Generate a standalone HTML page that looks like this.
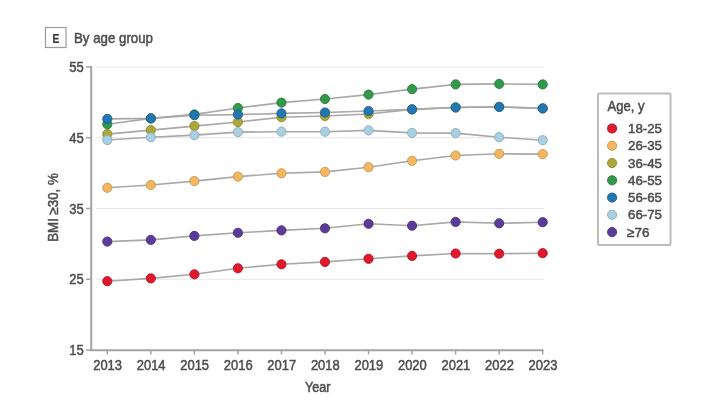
<!DOCTYPE html><html><head><meta charset="utf-8"><style>html,body{margin:0;padding:0;background:#fff;width:720px;height:416px;overflow:hidden}svg{display:block;filter:blur(0.3px)}text{font-family:"Liberation Sans",sans-serif;fill:#4d4d4d;stroke:#4d4d4d;stroke-width:0.5px}</style></head><body>
<svg width="720" height="416" viewBox="0 0 720 416">
<rect x="45.5" y="27.5" width="20.5" height="20" fill="none" stroke="#9a9a9a" stroke-width="1.2"/>
<text x="56" y="42.5" font-size="12.3" font-weight="bold" text-anchor="middle" textLength="6.8" lengthAdjust="spacingAndGlyphs" style="fill:#333;stroke:#333;stroke-width:0.2px">E</text>
<text x="74" y="42.5" font-size="14.2" textLength="79" lengthAdjust="spacingAndGlyphs">By age group</text>
<line x1="96" y1="67.00" x2="544" y2="67.00" stroke="#e6e6e6" stroke-width="1.2"/>
<line x1="96" y1="137.75" x2="544" y2="137.75" stroke="#e6e6e6" stroke-width="1.2"/>
<line x1="96" y1="208.50" x2="544" y2="208.50" stroke="#e6e6e6" stroke-width="1.2"/>
<line x1="96" y1="279.25" x2="544" y2="279.25" stroke="#e6e6e6" stroke-width="1.2"/>
<line x1="91.2" y1="66" x2="91.2" y2="351" stroke="#a3a3a3" stroke-width="2"/>
<line x1="90.2" y1="350.2" x2="543.5" y2="350.2" stroke="#a3a3a3" stroke-width="2"/>
<line x1="86" y1="67.00" x2="91" y2="67.00" stroke="#a3a3a3" stroke-width="1.5"/>
<text x="83.8" y="72.20" font-size="14.5" text-anchor="end" textLength="14.5" lengthAdjust="spacingAndGlyphs">55</text>
<line x1="86" y1="137.75" x2="91" y2="137.75" stroke="#a3a3a3" stroke-width="1.5"/>
<text x="83.8" y="142.95" font-size="14.5" text-anchor="end" textLength="14.5" lengthAdjust="spacingAndGlyphs">45</text>
<line x1="86" y1="208.50" x2="91" y2="208.50" stroke="#a3a3a3" stroke-width="1.5"/>
<text x="83.8" y="213.70" font-size="14.5" text-anchor="end" textLength="14.5" lengthAdjust="spacingAndGlyphs">35</text>
<line x1="86" y1="279.25" x2="91" y2="279.25" stroke="#a3a3a3" stroke-width="1.5"/>
<text x="83.8" y="284.45" font-size="14.5" text-anchor="end" textLength="14.5" lengthAdjust="spacingAndGlyphs">25</text>
<line x1="86" y1="350.00" x2="91" y2="350.00" stroke="#a3a3a3" stroke-width="1.5"/>
<text x="83.8" y="355.20" font-size="14.5" text-anchor="end" textLength="14.5" lengthAdjust="spacingAndGlyphs">15</text>
<line x1="107.30" y1="350" x2="107.30" y2="354.5" stroke="#a3a3a3" stroke-width="1.5"/>
<text x="107.60" y="370.3" font-size="14" text-anchor="middle" textLength="28.8" lengthAdjust="spacingAndGlyphs">2013</text>
<line x1="150.84" y1="350" x2="150.84" y2="354.5" stroke="#a3a3a3" stroke-width="1.5"/>
<text x="151.14" y="370.3" font-size="14" text-anchor="middle" textLength="28.8" lengthAdjust="spacingAndGlyphs">2014</text>
<line x1="194.38" y1="350" x2="194.38" y2="354.5" stroke="#a3a3a3" stroke-width="1.5"/>
<text x="194.68" y="370.3" font-size="14" text-anchor="middle" textLength="28.8" lengthAdjust="spacingAndGlyphs">2015</text>
<line x1="237.92" y1="350" x2="237.92" y2="354.5" stroke="#a3a3a3" stroke-width="1.5"/>
<text x="238.22" y="370.3" font-size="14" text-anchor="middle" textLength="28.8" lengthAdjust="spacingAndGlyphs">2016</text>
<line x1="281.46" y1="350" x2="281.46" y2="354.5" stroke="#a3a3a3" stroke-width="1.5"/>
<text x="281.76" y="370.3" font-size="14" text-anchor="middle" textLength="28.8" lengthAdjust="spacingAndGlyphs">2017</text>
<line x1="325.00" y1="350" x2="325.00" y2="354.5" stroke="#a3a3a3" stroke-width="1.5"/>
<text x="325.30" y="370.3" font-size="14" text-anchor="middle" textLength="28.8" lengthAdjust="spacingAndGlyphs">2018</text>
<line x1="368.54" y1="350" x2="368.54" y2="354.5" stroke="#a3a3a3" stroke-width="1.5"/>
<text x="368.84" y="370.3" font-size="14" text-anchor="middle" textLength="28.8" lengthAdjust="spacingAndGlyphs">2019</text>
<line x1="412.08" y1="350" x2="412.08" y2="354.5" stroke="#a3a3a3" stroke-width="1.5"/>
<text x="412.38" y="370.3" font-size="14" text-anchor="middle" textLength="28.8" lengthAdjust="spacingAndGlyphs">2020</text>
<line x1="455.62" y1="350" x2="455.62" y2="354.5" stroke="#a3a3a3" stroke-width="1.5"/>
<text x="455.92" y="370.3" font-size="14" text-anchor="middle" textLength="28.8" lengthAdjust="spacingAndGlyphs">2021</text>
<line x1="499.16" y1="350" x2="499.16" y2="354.5" stroke="#a3a3a3" stroke-width="1.5"/>
<text x="499.46" y="370.3" font-size="14" text-anchor="middle" textLength="28.8" lengthAdjust="spacingAndGlyphs">2022</text>
<line x1="542.70" y1="350" x2="542.70" y2="354.5" stroke="#a3a3a3" stroke-width="1.5"/>
<text x="543.00" y="370.3" font-size="14" text-anchor="middle" textLength="28.8" lengthAdjust="spacingAndGlyphs">2023</text>
<text x="317.7" y="392" font-size="14" text-anchor="middle" textLength="25.3" lengthAdjust="spacingAndGlyphs">Year</text>
<text transform="translate(58,207.5) rotate(-90)" font-size="14" text-anchor="middle" textLength="68.5" lengthAdjust="spacingAndGlyphs">BMI ≥30, %</text>
<polyline points="107.30,281.20 150.84,278.40 194.38,274.30 237.92,268.30 281.46,264.30 325.00,261.90 368.54,258.80 412.08,255.90 455.62,253.50 499.16,253.70 542.70,253.20" fill="none" stroke="#a8a8a8" stroke-width="1.6"/>
<polyline points="107.30,187.80 150.84,185.00 194.38,181.10 237.92,176.60 281.46,173.30 325.00,171.90 368.54,167.20 412.08,160.80 455.62,155.50 499.16,153.80 542.70,154.10" fill="none" stroke="#a8a8a8" stroke-width="1.6"/>
<polyline points="107.30,134.10 150.84,130.10 194.38,126.10 237.92,122.00 281.46,117.20 325.00,116.00 368.54,114.00 412.08,109.40 455.62,107.40 499.16,106.80 542.70,108.40" fill="none" stroke="#a8a8a8" stroke-width="1.6"/>
<polyline points="107.30,124.30 150.84,118.40 194.38,114.40 237.92,108.00 281.46,102.60 325.00,99.00 368.54,94.60 412.08,89.15 455.62,84.40 499.16,83.90 542.70,84.40" fill="none" stroke="#a8a8a8" stroke-width="1.6"/>
<polyline points="107.30,118.90 150.84,118.40 194.38,115.20 237.92,114.60 281.46,113.40 325.00,112.50 368.54,111.00 412.08,109.40 455.62,107.50 499.16,107.00 542.70,108.40" fill="none" stroke="#a8a8a8" stroke-width="1.6"/>
<polyline points="107.30,140.00 150.84,137.30 194.38,135.10 237.92,132.10 281.46,131.70 325.00,131.70 368.54,130.40 412.08,132.90 455.62,133.10 499.16,137.20 542.70,140.20" fill="none" stroke="#a8a8a8" stroke-width="1.6"/>
<polyline points="107.30,241.60 150.84,239.90 194.38,235.90 237.92,232.80 281.46,230.40 325.00,228.30 368.54,223.80 412.08,225.70 455.62,221.90 499.16,223.30 542.70,222.20" fill="none" stroke="#a8a8a8" stroke-width="1.6"/>
<circle cx="107.30" cy="281.20" r="4.60" fill="#e0182c" stroke="#b71324" stroke-width="0.9"/>
<circle cx="150.84" cy="278.40" r="4.60" fill="#e0182c" stroke="#b71324" stroke-width="0.9"/>
<circle cx="194.38" cy="274.30" r="4.60" fill="#e0182c" stroke="#b71324" stroke-width="0.9"/>
<circle cx="237.92" cy="268.30" r="4.60" fill="#e0182c" stroke="#b71324" stroke-width="0.9"/>
<circle cx="281.46" cy="264.30" r="4.60" fill="#e0182c" stroke="#b71324" stroke-width="0.9"/>
<circle cx="325.00" cy="261.90" r="4.60" fill="#e0182c" stroke="#b71324" stroke-width="0.9"/>
<circle cx="368.54" cy="258.80" r="4.60" fill="#e0182c" stroke="#b71324" stroke-width="0.9"/>
<circle cx="412.08" cy="255.90" r="4.60" fill="#e0182c" stroke="#b71324" stroke-width="0.9"/>
<circle cx="455.62" cy="253.50" r="4.60" fill="#e0182c" stroke="#b71324" stroke-width="0.9"/>
<circle cx="499.16" cy="253.70" r="4.60" fill="#e0182c" stroke="#b71324" stroke-width="0.9"/>
<circle cx="542.70" cy="253.20" r="4.60" fill="#e0182c" stroke="#b71324" stroke-width="0.9"/>
<circle cx="107.30" cy="187.80" r="4.60" fill="#f3b762" stroke="#c79650" stroke-width="0.9"/>
<circle cx="150.84" cy="185.00" r="4.60" fill="#f3b762" stroke="#c79650" stroke-width="0.9"/>
<circle cx="194.38" cy="181.10" r="4.60" fill="#f3b762" stroke="#c79650" stroke-width="0.9"/>
<circle cx="237.92" cy="176.60" r="4.60" fill="#f3b762" stroke="#c79650" stroke-width="0.9"/>
<circle cx="281.46" cy="173.30" r="4.60" fill="#f3b762" stroke="#c79650" stroke-width="0.9"/>
<circle cx="325.00" cy="171.90" r="4.60" fill="#f3b762" stroke="#c79650" stroke-width="0.9"/>
<circle cx="368.54" cy="167.20" r="4.60" fill="#f3b762" stroke="#c79650" stroke-width="0.9"/>
<circle cx="412.08" cy="160.80" r="4.60" fill="#f3b762" stroke="#c79650" stroke-width="0.9"/>
<circle cx="455.62" cy="155.50" r="4.60" fill="#f3b762" stroke="#c79650" stroke-width="0.9"/>
<circle cx="499.16" cy="153.80" r="4.60" fill="#f3b762" stroke="#c79650" stroke-width="0.9"/>
<circle cx="542.70" cy="154.10" r="4.60" fill="#f3b762" stroke="#c79650" stroke-width="0.9"/>
<circle cx="107.30" cy="134.10" r="4.60" fill="#aea83a" stroke="#8e892f" stroke-width="0.9"/>
<circle cx="150.84" cy="130.10" r="4.60" fill="#aea83a" stroke="#8e892f" stroke-width="0.9"/>
<circle cx="194.38" cy="126.10" r="4.60" fill="#aea83a" stroke="#8e892f" stroke-width="0.9"/>
<circle cx="237.92" cy="122.00" r="4.60" fill="#aea83a" stroke="#8e892f" stroke-width="0.9"/>
<circle cx="281.46" cy="117.20" r="4.60" fill="#aea83a" stroke="#8e892f" stroke-width="0.9"/>
<circle cx="325.00" cy="116.00" r="4.60" fill="#aea83a" stroke="#8e892f" stroke-width="0.9"/>
<circle cx="368.54" cy="114.00" r="4.60" fill="#aea83a" stroke="#8e892f" stroke-width="0.9"/>
<circle cx="412.08" cy="109.40" r="4.60" fill="#aea83a" stroke="#8e892f" stroke-width="0.9"/>
<circle cx="455.62" cy="107.40" r="4.60" fill="#aea83a" stroke="#8e892f" stroke-width="0.9"/>
<circle cx="499.16" cy="106.80" r="4.60" fill="#aea83a" stroke="#8e892f" stroke-width="0.9"/>
<circle cx="542.70" cy="108.40" r="4.60" fill="#aea83a" stroke="#8e892f" stroke-width="0.9"/>
<circle cx="107.30" cy="124.30" r="4.60" fill="#32994a" stroke="#297d3c" stroke-width="0.9"/>
<circle cx="150.84" cy="118.40" r="4.60" fill="#32994a" stroke="#297d3c" stroke-width="0.9"/>
<circle cx="194.38" cy="114.40" r="4.60" fill="#32994a" stroke="#297d3c" stroke-width="0.9"/>
<circle cx="237.92" cy="108.00" r="4.60" fill="#32994a" stroke="#297d3c" stroke-width="0.9"/>
<circle cx="281.46" cy="102.60" r="4.60" fill="#32994a" stroke="#297d3c" stroke-width="0.9"/>
<circle cx="325.00" cy="99.00" r="4.60" fill="#32994a" stroke="#297d3c" stroke-width="0.9"/>
<circle cx="368.54" cy="94.60" r="4.60" fill="#32994a" stroke="#297d3c" stroke-width="0.9"/>
<circle cx="412.08" cy="89.15" r="4.60" fill="#32994a" stroke="#297d3c" stroke-width="0.9"/>
<circle cx="455.62" cy="84.40" r="4.60" fill="#32994a" stroke="#297d3c" stroke-width="0.9"/>
<circle cx="499.16" cy="83.90" r="4.60" fill="#32994a" stroke="#297d3c" stroke-width="0.9"/>
<circle cx="542.70" cy="84.40" r="4.60" fill="#32994a" stroke="#297d3c" stroke-width="0.9"/>
<circle cx="107.30" cy="118.90" r="4.60" fill="#2276b2" stroke="#1b6091" stroke-width="0.9"/>
<circle cx="150.84" cy="118.40" r="4.60" fill="#2276b2" stroke="#1b6091" stroke-width="0.9"/>
<circle cx="194.38" cy="115.20" r="4.60" fill="#2276b2" stroke="#1b6091" stroke-width="0.9"/>
<circle cx="237.92" cy="114.60" r="4.60" fill="#2276b2" stroke="#1b6091" stroke-width="0.9"/>
<circle cx="281.46" cy="113.40" r="4.60" fill="#2276b2" stroke="#1b6091" stroke-width="0.9"/>
<circle cx="325.00" cy="112.50" r="4.60" fill="#2276b2" stroke="#1b6091" stroke-width="0.9"/>
<circle cx="368.54" cy="111.00" r="4.60" fill="#2276b2" stroke="#1b6091" stroke-width="0.9"/>
<circle cx="412.08" cy="109.40" r="4.60" fill="#2276b2" stroke="#1b6091" stroke-width="0.9"/>
<circle cx="455.62" cy="107.50" r="4.60" fill="#2276b2" stroke="#1b6091" stroke-width="0.9"/>
<circle cx="499.16" cy="107.00" r="4.60" fill="#2276b2" stroke="#1b6091" stroke-width="0.9"/>
<circle cx="542.70" cy="108.40" r="4.60" fill="#2276b2" stroke="#1b6091" stroke-width="0.9"/>
<circle cx="107.30" cy="140.00" r="4.60" fill="#a9d0e2" stroke="#8aaab9" stroke-width="0.9"/>
<circle cx="150.84" cy="137.30" r="4.60" fill="#a9d0e2" stroke="#8aaab9" stroke-width="0.9"/>
<circle cx="194.38" cy="135.10" r="4.60" fill="#a9d0e2" stroke="#8aaab9" stroke-width="0.9"/>
<circle cx="237.92" cy="132.10" r="4.60" fill="#a9d0e2" stroke="#8aaab9" stroke-width="0.9"/>
<circle cx="281.46" cy="131.70" r="4.60" fill="#a9d0e2" stroke="#8aaab9" stroke-width="0.9"/>
<circle cx="325.00" cy="131.70" r="4.60" fill="#a9d0e2" stroke="#8aaab9" stroke-width="0.9"/>
<circle cx="368.54" cy="130.40" r="4.60" fill="#a9d0e2" stroke="#8aaab9" stroke-width="0.9"/>
<circle cx="412.08" cy="132.90" r="4.60" fill="#a9d0e2" stroke="#8aaab9" stroke-width="0.9"/>
<circle cx="455.62" cy="133.10" r="4.60" fill="#a9d0e2" stroke="#8aaab9" stroke-width="0.9"/>
<circle cx="499.16" cy="137.20" r="4.60" fill="#a9d0e2" stroke="#8aaab9" stroke-width="0.9"/>
<circle cx="542.70" cy="140.20" r="4.60" fill="#a9d0e2" stroke="#8aaab9" stroke-width="0.9"/>
<circle cx="107.30" cy="241.60" r="4.60" fill="#5c3c98" stroke="#4b317c" stroke-width="0.9"/>
<circle cx="150.84" cy="239.90" r="4.60" fill="#5c3c98" stroke="#4b317c" stroke-width="0.9"/>
<circle cx="194.38" cy="235.90" r="4.60" fill="#5c3c98" stroke="#4b317c" stroke-width="0.9"/>
<circle cx="237.92" cy="232.80" r="4.60" fill="#5c3c98" stroke="#4b317c" stroke-width="0.9"/>
<circle cx="281.46" cy="230.40" r="4.60" fill="#5c3c98" stroke="#4b317c" stroke-width="0.9"/>
<circle cx="325.00" cy="228.30" r="4.60" fill="#5c3c98" stroke="#4b317c" stroke-width="0.9"/>
<circle cx="368.54" cy="223.80" r="4.60" fill="#5c3c98" stroke="#4b317c" stroke-width="0.9"/>
<circle cx="412.08" cy="225.70" r="4.60" fill="#5c3c98" stroke="#4b317c" stroke-width="0.9"/>
<circle cx="455.62" cy="221.90" r="4.60" fill="#5c3c98" stroke="#4b317c" stroke-width="0.9"/>
<circle cx="499.16" cy="223.30" r="4.60" fill="#5c3c98" stroke="#4b317c" stroke-width="0.9"/>
<circle cx="542.70" cy="222.20" r="4.60" fill="#5c3c98" stroke="#4b317c" stroke-width="0.9"/>
<rect x="598" y="93.5" width="72.5" height="151.5" rx="1" fill="none" stroke="#bcbcbc" stroke-width="2"/>
<text x="607.5" y="110.6" font-size="14" textLength="37" lengthAdjust="spacingAndGlyphs">Age, y</text>
<circle cx="612.1" cy="128.50" r="4.6" fill="#e0182c" stroke="#b71324" stroke-width="0.9"/>
<text x="628" y="133.10" font-size="13.5" textLength="34" lengthAdjust="spacingAndGlyphs">18-25</text>
<circle cx="612.1" cy="145.77" r="4.6" fill="#f3b762" stroke="#c79650" stroke-width="0.9"/>
<text x="628" y="150.37" font-size="13.5" textLength="34" lengthAdjust="spacingAndGlyphs">26-35</text>
<circle cx="612.1" cy="163.04" r="4.6" fill="#aea83a" stroke="#8e892f" stroke-width="0.9"/>
<text x="628" y="167.64" font-size="13.5" textLength="34" lengthAdjust="spacingAndGlyphs">36-45</text>
<circle cx="612.1" cy="180.31" r="4.6" fill="#32994a" stroke="#297d3c" stroke-width="0.9"/>
<text x="628" y="184.91" font-size="13.5" textLength="34" lengthAdjust="spacingAndGlyphs">46-55</text>
<circle cx="612.1" cy="197.58" r="4.6" fill="#2276b2" stroke="#1b6091" stroke-width="0.9"/>
<text x="628" y="202.18" font-size="13.5" textLength="34" lengthAdjust="spacingAndGlyphs">56-65</text>
<circle cx="612.1" cy="214.85" r="4.6" fill="#a9d0e2" stroke="#8aaab9" stroke-width="0.9"/>
<text x="628" y="219.45" font-size="13.5" textLength="34" lengthAdjust="spacingAndGlyphs">66-75</text>
<circle cx="612.1" cy="232.12" r="4.6" fill="#5c3c98" stroke="#4b317c" stroke-width="0.9"/>
<text x="627" y="236.72" font-size="13.5">≥76</text>
</svg></body></html>
